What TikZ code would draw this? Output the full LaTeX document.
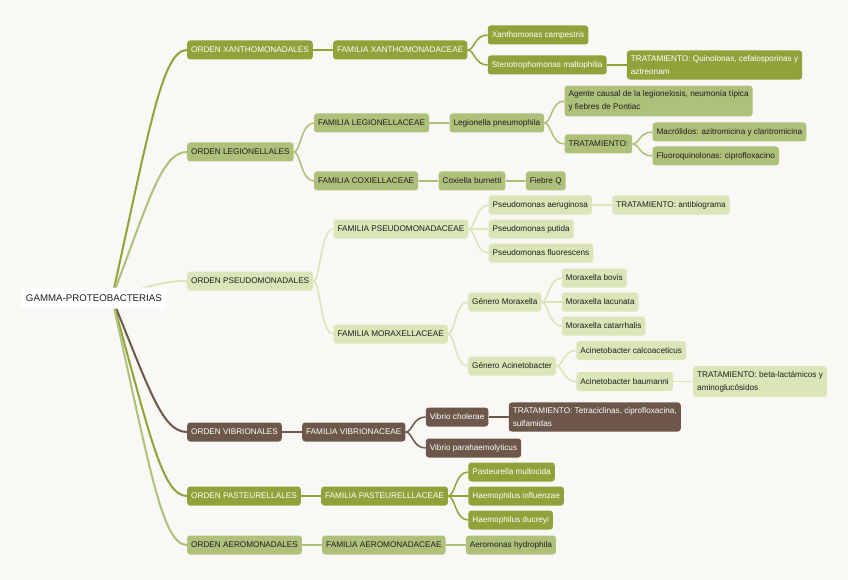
\documentclass[tikz,border=0pt]{standalone}
\usepackage{fontspec}
\setmainfont{Liberation Sans}
\usepackage{xcolor}
\usepackage{tikz}
\usetikzlibrary{positioning,calc}
\definecolor{bgcol}{HTML}{F9F8F4}
\definecolor{olive}{HTML}{8FA33A}
\definecolor{sage}{HTML}{ADC17A}
\definecolor{pale}{HTML}{DAE5B8}
\definecolor{bark}{HTML}{6D564A}
\definecolor{ink}{HTML}{1E1E1E}
\pgfdeclarelayer{back}
\pgfdeclarelayer{links}
\pgfsetlayers{back,links,main}

\begin{document}
\begin{tikzpicture}[
    x=1pt, y=1pt,
    font=\fontsize{8.2}{13}\selectfont,
    node distance=20pt,
    box/.style={
        rounded corners=3pt,
        inner xsep=4pt,
        inner ysep=5pt,
        minimum height=19pt,
        align=left
    },
    olivebox/.style={box, fill=olive, text=white},
    sagebox/.style={box, fill=sage, text=ink},
    palebox/.style={box, fill=pale, text=ink},
    barkbox/.style={box, fill=bark, text=white},
    rootbox/.style={box, fill=white, text=ink, inner xsep=5pt,
                    minimum height=21pt, font=\fontsize{9.7}{12}\selectfont},
    link/.style={line width=1.5pt,
        to path={.. controls +(7,0) and +(-13,0) .. (\tikztotarget)}},
    trunk/.style={line width=2pt,
        to path={let \p1=(\tikztostart), \p2=(\tikztotarget) in
            .. controls ({0.5*\x1+0.5*\x2},{0.32*\y1+0.68*\y2})
            and ({\x2-25pt},\y2) .. (\tikztotarget)}}
]
\useasboundingbox (0,0) rectangle (848,-580);
\begin{pgfonlayer}{back}
\fill[bgcol] (0,0) rectangle (848,-580);
\end{pgfonlayer}

\node[rootbox, anchor=east] (root) at (167,-298) {GAMMA-PROTEOBACTERIAS};
\coordinate (hub) at ([xshift=18pt]root.center);

% orders
\node[olivebox, right=of root, yshift=248pt] (oxan) {ORDEN XANTHOMONADALES};
\node[sagebox, right=of root, yshift=146pt] (oleg) {ORDEN LEGIONELLALES};
\node[palebox, right=of root, yshift=17pt] (opse) {ORDEN PSEUDOMONADALES};
\node[barkbox, right=of root, yshift=-134pt] (ovib) {ORDEN VIBRIONALES};
\node[olivebox, right=of root, yshift=-198pt] (opas) {ORDEN PASTEURELLALES};
\node[sagebox, right=of root, yshift=-247pt] (oaer) {ORDEN AEROMONADALES};

% families
\node[olivebox, right=of oxan] (fxan) {FAMILIA XANTHOMONADACEAE};
\node[sagebox, right=of oleg, yshift=29pt] (fleg) {FAMILIA LEGIONELLACEAE};
\node[sagebox, right=of oleg, yshift=-29pt] (fcox) {FAMILIA COXIELLACEAE};
\node[palebox, right=of opse, yshift=52pt] (fpse) {FAMILIA PSEUDOMONADACEAE};
\node[palebox, right=of opse, yshift=-53pt] (fmor) {FAMILIA MORAXELLACEAE};
\node[barkbox, right=of ovib] (fvib) {FAMILIA VIBRIONACEAE};
\node[olivebox, right=of opas] (fpas) {FAMILIA PASTEURELLLACEAE};
\node[sagebox, right=of oaer] (faer) {FAMILIA AEROMONADACEAE};

% xanthomonadaceae
\node[olivebox, right=of fxan, yshift=15pt] (xcam) {Xanthomonas campestris};
\node[olivebox, right=of fxan, yshift=-15pt] (smal) {Stenotrophomonas maltophilia};
\node[olivebox, right=of smal] (tsmal) {TRATAMIENTO: Quinolonas, cefalosporinas y\\aztreonam};

% legionellaceae, coxiellaceae
\node[sagebox, right=of fleg] (lpne) {Legionella pneumophila};
\node[sagebox, right=of lpne, yshift=22pt] (agen) {Agente causal de la legionelosis, neumonía típica\\y fiebres de Pontiac};
\node[sagebox, right=of lpne, yshift=-21pt] (tlpne) {TRATAMIENTO:};
\node[sagebox, right=of tlpne, yshift=12pt] (macr) {Macrólidos: azitromicina y claritromicina};
\node[sagebox, right=of tlpne, yshift=-12pt] (fluo) {Fluoroquinolonas: ciprofloxacino};
\node[sagebox, right=of fcox] (cbur) {Coxiella burnetti};
\node[sagebox, right=of cbur] (fieb) {Fiebre Q};

% pseudomonadaceae
\node[palebox, right=of fpse, yshift=24pt] (paer) {Pseudomonas aeruginosa};
\node[palebox, right=of paer] (tpaer) {TRATAMIENTO: antibiograma};
\node[palebox, right=of fpse] (pput) {Pseudomonas putida};
\node[palebox, right=of fpse, yshift=-24pt] (pflu) {Pseudomonas fluorescens};

% moraxellaceae
\node[palebox, right=of fmor, yshift=32pt] (gmor) {Género Moraxella};
\node[palebox, right=of gmor, yshift=24pt] (mbov) {Moraxella bovis};
\node[palebox, right=of gmor] (mlac) {Moraxella lacunata};
\node[palebox, right=of gmor, yshift=-24pt] (mcat) {Moraxella catarrhalis};
\node[palebox, right=of fmor, yshift=-32pt] (gaci) {Género Acinetobacter};
\node[palebox, right=of gaci, yshift=15.5pt] (acal) {Acinetobacter calcoaceticus};
\node[palebox, right=of gaci, yshift=-15.5pt] (abau) {Acinetobacter baumanni};
\node[palebox, right=of abau] (tabau) {TRATAMIENTO: beta-lactámicos y\\aminoglucósidos};

% vibrionaceae
\node[barkbox, right=of fvib, yshift=15pt] (vcho) {Vibrio cholerae};
\node[barkbox, right=of vcho] (tvcho) {TRATAMIENTO: Tetraciclinas, ciprofloxacina,\\sulfamidas};
\node[barkbox, right=of fvib, yshift=-16pt] (vpar) {Vibrio parahaemolyticus};

% pasteurellaceae, aeromonadaceae
\node[olivebox, right=of fpas, yshift=24pt] (pmul) {Pasteurella multocida};
\node[olivebox, right=of fpas] (hinf) {Haemophilus influenzae};
\node[olivebox, right=of fpas, yshift=-24pt] (hduc) {Haemophilus ducreyi};
\node[sagebox, right=of faer] (ahyd) {Aeromonas hydrophila};

\begin{pgfonlayer}{links}
% from the root
\draw[trunk, olive] (hub) to (oxan.west);
\draw[trunk, sage] (hub) to (oleg.west);
\draw[trunk, pale] (hub) to (opse.west);
\draw[trunk, bark] (hub) to (ovib.west);
\draw[trunk, olive] (hub) to (opas.west);
\draw[trunk, sage] (hub) to (oaer.west);

\draw[link, olive] (oxan.east) to (fxan.west);
\draw[link, olive] (fxan.east) to (xcam.west);
\draw[link, olive] (fxan.east) to (smal.west);
\draw[link, olive] (smal.east) to (tsmal.west);

\draw[link, sage] (oleg.east) to (fleg.west);
\draw[link, sage] (oleg.east) to (fcox.west);
\draw[link, sage] (fleg.east) to (lpne.west);
\draw[link, sage] (lpne.east) to (agen.west);
\draw[link, sage] (lpne.east) to (tlpne.west);
\draw[link, sage] (tlpne.east) to (macr.west);
\draw[link, sage] (tlpne.east) to (fluo.west);
\draw[link, sage] (fcox.east) to (cbur.west);
\draw[link, sage] (cbur.east) to (fieb.west);

\draw[link, pale] (opse.east) to (fpse.west);
\draw[link, pale] (opse.east) to (fmor.west);
\draw[link, pale] (fpse.east) to (paer.west);
\draw[link, pale] (paer.east) to (tpaer.west);
\draw[link, pale] (fpse.east) to (pput.west);
\draw[link, pale] (fpse.east) to (pflu.west);
\draw[link, pale] (fmor.east) to (gmor.west);
\draw[link, pale] (fmor.east) to (gaci.west);
\draw[link, pale] (gmor.east) to (mbov.west);
\draw[link, pale] (gmor.east) to (mlac.west);
\draw[link, pale] (gmor.east) to (mcat.west);
\draw[link, pale] (gaci.east) to (acal.west);
\draw[link, pale] (gaci.east) to (abau.west);
\draw[link, pale] (abau.east) to (tabau.west);

\draw[link, bark] (ovib.east) to (fvib.west);
\draw[link, bark] (fvib.east) to (vcho.west);
\draw[link, bark] (vcho.east) to (tvcho.west);
\draw[link, bark] (fvib.east) to (vpar.west);

\draw[link, olive] (opas.east) to (fpas.west);
\draw[link, olive] (fpas.east) to (pmul.west);
\draw[link, olive] (fpas.east) to (hinf.west);
\draw[link, olive] (fpas.east) to (hduc.west);

\draw[link, sage] (oaer.east) to (faer.west);
\draw[link, sage] (faer.east) to (ahyd.west);
\end{pgfonlayer}

\end{tikzpicture}
\end{document}
